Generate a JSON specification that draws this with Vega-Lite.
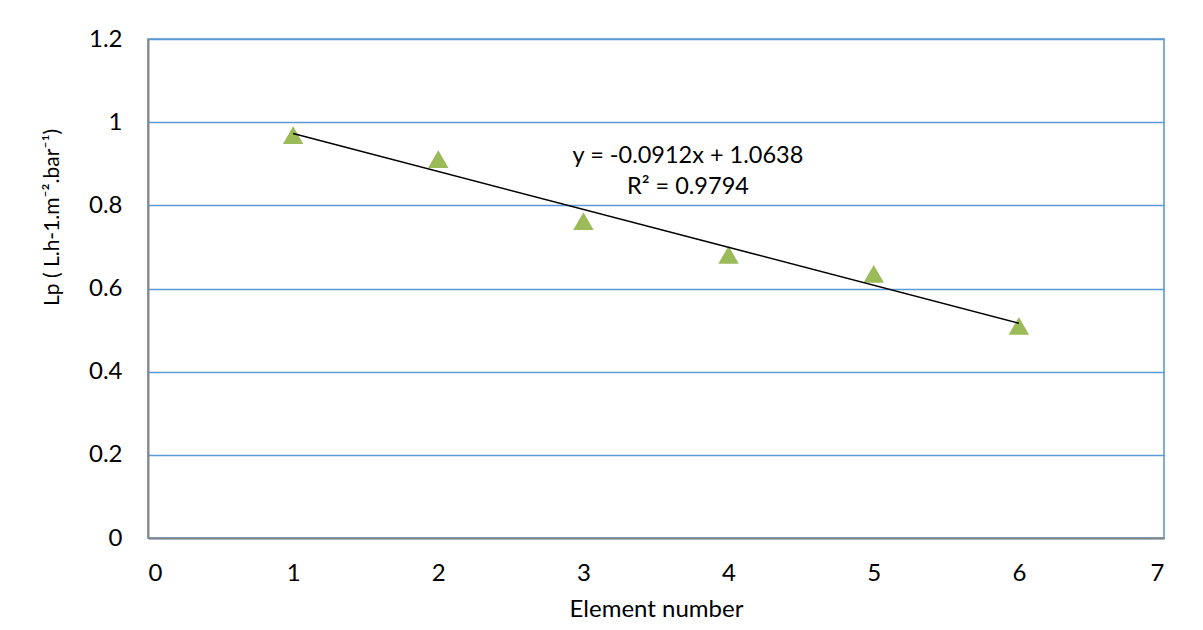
{
  "$schema": "https://vega.github.io/schema/vega-lite/v6.json",
  "width": 1016,
  "height": 499,
  "autosize": {"type": "none"},
  "padding": {"left": 148, "top": 39, "right": 39, "bottom": 92},
  "background": "white",
  "config": {
    "font": "Lato",
    "view": {"stroke": "#5B8FCC", "strokeWidth": 1.5},
    "axis": {
      "labelFont": "Lato", "titleFont": "Lato", "labelFontSize": 24, "titleFontSize": 24,
      "labelColor": "#000", "titleColor": "#000", "titleFontWeight": "normal",
      "ticks": false, "domainColor": "#868686", "domainWidth": 2
    }
  },
  "datasets": {
    "points": [
      {"element": 1, "lp": 0.969},
      {"element": 2, "lp": 0.911},
      {"element": 3, "lp": 0.762},
      {"element": 4, "lp": 0.681},
      {"element": 5, "lp": 0.635},
      {"element": 6, "lp": 0.51}
    ],
    "trend": [
      {"element": 1, "lp": 0.9726},
      {"element": 6, "lp": 0.5166}
    ],
    "notes": [
      {"element": 3.72, "lp": 0.918, "label": "y = -0.0912x + 1.0638"},
      {"element": 3.72, "lp": 0.845, "label": "R² = 0.9794"}
    ]
  },
  "layer": [
    {
      "data": {"name": "points"},
      "mark": {"type": "point", "shape": "triangle-up", "filled": true, "opacity": 1, "color": "#9BBB59", "size": 420},
      "encoding": {
        "x": {"field": "element", "type": "quantitative",
          "scale": {"domain": [0, 7], "nice": false},
          "axis": {"title": "Element number", "values": [0,1,2,3,4,5,6,7], "format": "d", "grid": false,
            "labelBaseline": "alphabetic", "labelPadding": 42, "titlePadding": 12}},
        "y": {"field": "lp", "type": "quantitative",
          "scale": {"domain": [0, 1.2], "nice": false},
          "axis": {"title": "Lp ( L.h-1.m⁻².bar⁻¹)", "values": [0,0.2,0.4,0.6,0.8,1,1.2], "format": "~g",
            "grid": true, "gridColor": "#5B9BD5", "gridWidth": 1.5, "gridOpacity": 1,
            "labelPadding": 26, "titleFontSize": 21, "titleAnchor": null, "titleAlign": "center",
            "titleBaseline": "middle", "titleX": -96, "titleY": 178}}
      }
    },
    {
      "data": {"name": "trend"},
      "mark": {"type": "line", "color": "#000", "strokeWidth": 1.5},
      "encoding": {
        "x": {"field": "element", "type": "quantitative"},
        "y": {"field": "lp", "type": "quantitative"}
      }
    },
    {
      "data": {"name": "notes"},
      "mark": {"type": "text", "fontSize": 23.5, "font": "Lato", "color": "#000", "align": "center", "baseline": "middle"},
      "encoding": {
        "x": {"field": "element", "type": "quantitative"},
        "y": {"field": "lp", "type": "quantitative"},
        "text": {"field": "label"}
      }
    }
  ]
}
